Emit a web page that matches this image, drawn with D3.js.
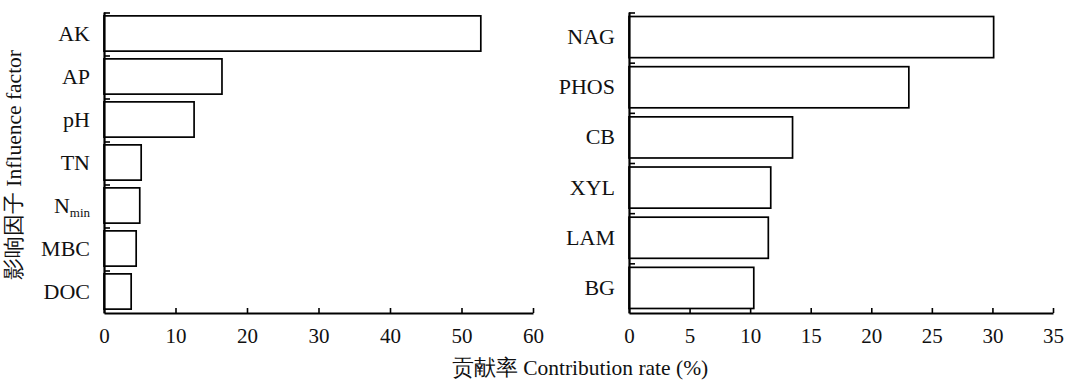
<!DOCTYPE html>
<html>
<head>
<meta charset="utf-8">
<script src="https://cdn.jsdelivr.net/npm/d3@7"></script>
<style>
  body { margin: 0; background: #fff; }
  svg text { font-family: "Times New Roman", "Liberation Serif", serif; fill: #111; }
  svg text tspan.cjk { font-family: serif; }
</style>
</head>
<body>
<svg id="chart" width="1065" height="385"></svg>
<script>
// left panel: soil factors
const soilFactors = ["AK", "AP", "pH", "TN", "Nmin", "MBC", "DOC"];
const soilValues = [52.7, 16.5, 12.6, 5.2, 5.0, 4.5, 3.8];
const soilTicks = [0, 10, 20, 30, 40, 50, 60];

// right panel: enzymes
const enzymes = ["NAG", "PHOS", "CB", "XYL", "LAM", "BG"];
const enzymeValues = [30.1, 23.1, 13.5, 11.7, 11.5, 10.3];
const enzymeTicks = [0, 5, 10, 15, 20, 25, 30, 35];

const svg = d3.select("#chart");
const plotTop = 12, plotBottom = 313;

function drawPanel(cats, vals, ticks, x0, x1, maxV) {
    const g = svg.append("g");

    const xScale = d3.scaleLinear().domain([0, maxV]).range([x0, x1]);
    const yScale = d3.scaleBand()
        .domain(cats)
        .range([plotTop, plotBottom])
        .paddingInner(0.18)
        .paddingOuter(0.09);

    // bars
    g.selectAll(".bar")
        .data(cats)
        .enter()
        .append("rect")
        .attr("class", "bar")
        .attr("x", xScale(0))
        .attr("y", d => yScale(d))
        .attr("width", (d, i) => xScale(vals[i]) - xScale(0))
        .attr("height", yScale.bandwidth())
        .attr("fill", "#fff")
        .attr("stroke", "#000")
        .attr("stroke-width", 1.7);

    // x axis, ticks point inward
    const xAxis = g.append("g")
        .attr("transform", `translate(0,${plotBottom})`)
        .call(d3.axisBottom(xScale).tickValues(ticks).tickSizeInner(-5).tickSizeOuter(0).tickPadding(15));
    xAxis.attr("font-family", null);
    xAxis.select(".domain").attr("stroke", "#000").attr("stroke-width", 2.2);
    xAxis.selectAll(".tick line").attr("stroke-width", 1.6);
    xAxis.selectAll(".tick text").attr("font-size", 21).attr("fill", "#111");

    // y axis with labels at band centres
    const yAxis = g.append("g")
        .attr("transform", `translate(${x0},0)`)
        .call(d3.axisLeft(yScale).tickSize(0).tickPadding(14));
    yAxis.attr("font-family", null);
    yAxis.select(".domain").attr("stroke", "#000").attr("stroke-width", 2.2);
    yAxis.selectAll(".tick text").attr("font-size", 22).attr("fill", "#111")
        .each(function(d) {
            if (d === "Nmin") {
                const t = d3.select(this).text("");
                t.append("tspan").text("N");
                t.append("tspan").attr("font-size", 13).attr("dy", "0.35em").text("min");
            }
        });

    // short boundary ticks on the inside
    const step = yScale.step();
    g.selectAll(".bound")
        .data(cats)
        .enter()
        .append("line")
        .attr("class", "bound")
        .attr("x1", x0)
        .attr("x2", x0 + 6)
        .attr("y1", d => yScale(d) - step * yScale.paddingInner() / 2 + 1)
        .attr("y2", d => yScale(d) - step * yScale.paddingInner() / 2 + 1)
        .attr("stroke", "#000")
        .attr("stroke-width", 1.6);
}

drawPanel(soilFactors, soilValues, soilTicks, 104, 533, 60);
drawPanel(enzymes, enzymeValues, enzymeTicks, 629, 1053, 35);

// axis titles (Chinese part in the generic serif so it gets a Song-style face)
const yTitle = svg.append("text")
    .attr("transform", `translate(21,165) rotate(-90)`)
    .attr("text-anchor", "middle")
    .attr("font-size", 21.5);
yTitle.append("tspan").attr("class", "cjk").text("影响因子");
yTitle.append("tspan").text(" Influence factor");

const xTitle = svg.append("text")
    .attr("x", 580)
    .attr("y", 375)
    .attr("text-anchor", "middle")
    .attr("font-size", 21.5);
xTitle.append("tspan").attr("class", "cjk").text("贡献率");
xTitle.append("tspan").text(" Contribution rate (%)");
</script>
</body>
</html>
